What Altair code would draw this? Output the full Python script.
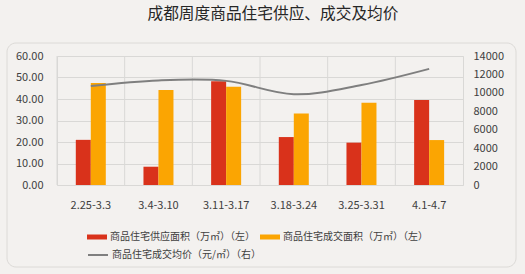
import altair as alt
import pandas as pd

weeks = ["2.25-3.3", "3.4-3.10", "3.11-3.17", "3.18-3.24", "3.25-3.31", "4.1-4.7"]
supply = [21.0, 8.5, 48.3, 22.3, 19.7, 39.5]
deal = [47.4, 44.2, 45.7, 33.2, 38.3, 20.9]
price = [10750, 11350, 11300, 9850, 10850, 12600]
left_ticks = [0, 10, 20, 30, 40, 50, 60]
right_ticks = [0, 2000, 4000, 6000, 8000, 10000, 12000, 14000]

s_supply = "商品住宅供应面积（万㎡）（左）"
s_deal = "商品住宅成交面积（万㎡）（左）"
s_price = "商品住宅成交均价（元/㎡）（右）"
series = [s_supply, s_deal]

FONT = "Noto Sans CJK SC"
RED = "#d9321b"
ORANGE = "#fba502"
GRID = "#d9d8d6"
TXT = "#404040"

bar_df = pd.DataFrame(
    [{"week": w, "series": s_supply, "value": v} for w, v in zip(weeks, supply)]
    + [{"week": w, "series": s_deal, "value": v} for w, v in zip(weeks, deal)]
)
line_df = pd.DataFrame({"week": weeks, "price": price, "label": s_price})
week_df = pd.DataFrame({"week": weeks})
panel_df = pd.DataFrame({"p": [0]})

xscale = alt.Scale(domain=weeks, paddingInner=0, paddingOuter=0)
xaxis = alt.Axis(
    title=None, labelAngle=0, ticks=False, domain=False, grid=False,
    labelPadding=14, labelFontSize=11, labelColor=TXT, labelFont=FONT,
)

panel = alt.Chart(panel_df).mark_rect(
    filled=False, stroke="#dcdad7", strokeWidth=1, cornerRadius=9
).encode(
    x=alt.value(-50), x2=alt.value(459), y=alt.value(-13), y2=alt.value(211)
)

vgrid = alt.Chart(week_df).mark_rule(color=GRID, strokeWidth=1).encode(
    x=alt.X("week:N", scale=xscale, bandPosition=0, axis=xaxis)
)

bars = alt.Chart(bar_df).mark_bar().encode(
    x=alt.X("week:N", scale=xscale, axis=xaxis),
    xOffset=alt.XOffset(
        "series:N", sort=series,
        scale=alt.Scale(domain=series, range=[18.8, 48.8], paddingInner=0, paddingOuter=0),
    ),
    y=alt.Y(
        "value:Q",
        scale=alt.Scale(domain=[0, 60], nice=False, zero=True),
        axis=alt.Axis(
            title=None, values=left_ticks, format=".2f",
            ticks=False, domain=False, grid=True, gridColor=GRID,
            labelPadding=14, labelFontSize=11, labelColor=TXT, labelFont=FONT,
        ),
    ),
    color=alt.Color(
        "series:N",
        scale=alt.Scale(domain=series, range=[RED, ORANGE]),
        legend=alt.Legend(
            title=None, orient="none", legendX=30, legendY=171, direction="horizontal",
            columns=2, columnPadding=5, labelLimit=300,
            symbolType="M-1,-0.25L1,-0.25L1,0.25L-1,0.25Z", symbolSize=400,
            symbolStrokeWidth=0, labelFontSize=10, labelColor=TXT, labelFont=FONT,
            labelOffset=3,
        ),
    ),
)

line = alt.Chart(line_df).mark_line(interpolate="cardinal", strokeWidth=2).encode(
    x=alt.X("week:N", scale=xscale, axis=xaxis),
    y=alt.Y(
        "price:Q",
        scale=alt.Scale(domain=[0, 14000], nice=False),
        axis=alt.Axis(
            orient="right", title=None, values=right_ticks, format="d",
            ticks=False, domain=False, grid=False,
            labelPadding=10, labelFontSize=11, labelColor=TXT, labelFont=FONT,
        ),
    ),
    stroke=alt.Stroke(
        "label:N",
        scale=alt.Scale(domain=[s_price], range=["#7f7f7f"]),
        legend=alt.Legend(
            title=None, orient="none", legendX=30, legendY=188, labelLimit=300,
            symbolType="stroke", symbolSize=400, symbolStrokeWidth=2,
            labelFontSize=10, labelColor=TXT, labelFont=FONT, labelOffset=3,
        ),
    ),
)

chart = (
    alt.layer(panel, vgrid, bars, line)
    .resolve_scale(y="independent", color="independent")
    .properties(
        width=406,
        height=129,
        autosize=alt.AutoSizeParams(type="none"),
        padding={"left": 57, "top": 56, "right": 62, "bottom": 89},
        background="#f3f1ef",
        title=alt.TitleParams(
            text="成都周度商品住宅供应、成交及均价",
            font=FONT, fontSize=15.7, fontWeight="normal", color="#262626",
            anchor="middle", dx=13, offset=20,
        ),
    )
    .configure_view(stroke=GRID, strokeWidth=1)
)

chart.save("out.html", embed_options={"renderer": "svg", "actions": False})
